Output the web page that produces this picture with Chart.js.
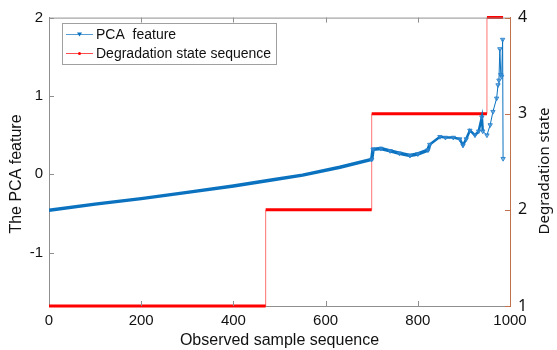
<!DOCTYPE html>
<html>
<head>
<meta charset="utf-8">
<script src="https://cdn.jsdelivr.net/npm/chart.js@4.4.0/dist/chart.umd.min.js"></script>
<style>
html, body { margin: 0; padding: 0; background: #fff; }
#wrap { width: 557px; height: 350px; }
</style>
</head>
<body>
<div id="wrap"><canvas id="stateChart"></canvas></div>
<script>
// PCA feature
let sampleIdx = [0, 100, 200, 300, 400, 486, 550, 631, 700, 703, 720, 740, 760, 783, 800, 822, 826, 848, 860, 877, 891, 898, 905, 913, 924, 932, 939, 941, 950, 957, 963, 971, 974, 976, 978, 980, 982, 984, 985];
let pcaValues = [-0.46, -0.38, -0.31, -0.23, -0.15, -0.07, -0.01, 0.09, 0.19, 0.32, 0.33, 0.30, 0.27, 0.24, 0.26, 0.31, 0.38, 0.48, 0.47, 0.47, 0.45, 0.37, 0.45, 0.56, 0.50, 0.55, 0.73, 0.55, 0.50, 0.63, 0.80, 0.97, 1.14, 1.20, 1.60, 1.27, 1.25, 1.72, 0.20];

// degradation state sequence (step levels)
let stateIdx = [0, 470, 470, 700, 700, 950, 950, 985];
let stateValues = [1, 1, 2, 2, 3, 3, 4, 4];

let xTicks = [0, 200, 400, 600, 800, 1000];
let leftTicks = [-1, 0, 1, 2];
let rightTicks = [1, 2, 3, 4];

let blue = '#0b72c0';
let red = '#ff0000';
let frameGray = '#8f8f8f';
let rightBrown = '#c0704a';

let pcaData = sampleIdx.map((x, i) => ({ x: x, y: pcaValues[i] }));
let stateData = stateIdx.map((x, i) => ({ x: x, y: stateValues[i] }));

// matlab-ish frame: inward ticks, top border, side titles, legend box inside the axes
let matlabFrame = {
    id: 'matlabFrame',
    afterDraw(chart) {
        let c = chart.ctx;
        let a = chart.chartArea;
        let sx = chart.scales.x, sy = chart.scales.y, sy2 = chart.scales.y2;
        c.save();
        c.lineWidth = 1;
        c.strokeStyle = frameGray;
        c.beginPath();
        c.moveTo(a.left, a.top + 0.5);
        c.lineTo(a.right, a.top + 0.5);
        xTicks.forEach(v => {
            let px = Math.round(sx.getPixelForValue(v)) + 0.5;
            if (v > 0 && v < 1000) {
                c.moveTo(px, a.bottom); c.lineTo(px, a.bottom - 5);
                c.moveTo(px, a.top); c.lineTo(px, a.top + 5);
            }
        });
        leftTicks.forEach(v => {
            let py = Math.round(sy.getPixelForValue(v)) + 0.5;
            c.moveTo(a.left, py); c.lineTo(a.left + 5, py);
        });
        c.stroke();
        c.strokeStyle = rightBrown;
        c.beginPath();
        rightTicks.forEach(v => {
            let py = Math.round(sy2.getPixelForValue(v)) + 0.5;
            c.moveTo(a.right, py); c.lineTo(a.right - 5, py);
        });
        c.stroke();

        // side titles, both read bottom to top
        c.fillStyle = '#111';
        c.textAlign = 'center';
        c.textBaseline = 'middle';
        c.save();
        c.translate(17, 174);
        c.rotate(-Math.PI / 2);
        c.font = '16px "Liberation Sans", Arial, sans-serif';
        c.fillText('The PCA feature', 0, 0);
        c.restore();
        c.save();
        c.translate(545, 171);
        c.rotate(-Math.PI / 2);
        c.font = '15px "Noto Sans", sans-serif';
        c.fillText('Degradation state', 0, 0);
        c.restore();

        // legend
        let bx = 62.5, by = 23.5, bw = 214, bh = 41;
        c.textAlign = 'left';
        c.fillStyle = '#fff';
        c.fillRect(bx, by, bw, bh);
        c.strokeStyle = '#a0a0a0';
        c.strokeRect(bx, by, bw, bh);
        c.font = '14px "Liberation Sans", Arial, sans-serif';
        let rows = [
            { y: 34, color: blue, label: chart.data.datasets[0].label, mark: 'tri' },
            { y: 53, color: red, label: chart.data.datasets[1].label, mark: 'dot' }
        ];
        rows.forEach(r => {
            c.strokeStyle = r.color;
            c.globalAlpha = 0.7;
            c.beginPath();
            c.moveTo(66, r.y + 0.5); c.lineTo(93, r.y + 0.5);
            c.stroke();
            c.globalAlpha = 1;
            c.fillStyle = r.color;
            c.beginPath();
            if (r.mark === 'tri') {
                c.moveTo(77, r.y - 1.5); c.lineTo(82, r.y - 1.5); c.lineTo(79.5, r.y + 2.5);
            } else {
                c.arc(79.5, r.y + 0.5, 1.5, 0, Math.PI * 2);
            }
            c.fill();
            c.fillStyle = '#111';
            c.fillText(r.label, 96, r.y + 1);
        });
        c.restore();
    }
};

let myChart = new Chart(document.getElementById('stateChart'), {
    type: 'line',
    data: {
        datasets: [
            {
                label: 'PCA  feature',
                data: pcaData,
                yAxisID: 'y',
                borderColor: blue,
                backgroundColor: 'rgba(70,150,215,0.6)',
                pointStyle: 'triangle',
                rotation: 180,
                pointRadius: ctx => (ctx.raw && ctx.raw.x >= 700 ? 2.5 : 0),
                pointBorderWidth: 1,
                pointBorderColor: 'rgba(40,130,205,0.9)',
                segment: {
                    borderWidth: ctx => (ctx.p0.parsed.x < 826 ? 3.5 : (ctx.p0.parsed.x < 940 ? 2.5 : 1))
                },
                tension: 0,
                order: 1
            },
            {
                label: 'Degradation state sequence',
                data: stateData,
                yAxisID: 'y2',
                borderColor: red,
                pointRadius: 0,
                segment: {
                    borderWidth: ctx => (ctx.p0.parsed.y === ctx.p1.parsed.y ? 3 : 1),
                    borderColor: ctx => (ctx.p0.parsed.y === ctx.p1.parsed.y ? red : 'rgba(255,0,0,0.55)')
                },
                clip: 4,
                tension: 0,
                order: 2
            }
        ]
    },
    options: {
        responsive: true,
        maintainAspectRatio: false,
        animation: false,
        devicePixelRatio: 1,
        layout: { padding: { top: 15, left: 0, right: 0, bottom: 0 } },
        plugins: {
            legend: { display: false },
            tooltip: { enabled: false }
        },
        scales: {
            x: {
                type: 'linear',
                min: 0,
                max: 1000,
                afterBuildTicks: s => { s.ticks = xTicks.map(v => ({ value: v })); },
                ticks: { color: '#111', padding: 6, maxRotation: 0, callback: v => String(v), font: { family: '"Liberation Sans", Arial', size: 15 } },
                grid: { display: false, drawTicks: false },
                border: { display: true, color: frameGray },
                title: { display: true, text: 'Observed sample sequence', color: '#111', padding: { top: 0, bottom: 0 }, font: { family: '"Liberation Sans", Arial', size: 16 } },
                afterFit: s => { s.height = 44; }
            },
            y: {
                position: 'left',
                min: -1.68,
                max: 2,
                afterBuildTicks: s => { s.ticks = leftTicks.map(v => ({ value: v })); },
                ticks: { color: '#111', padding: 6, callback: v => String(v), font: { family: '"Liberation Sans", Arial', size: 15 } },
                grid: { display: false, drawTicks: false },
                border: { display: true, color: frameGray },
                afterFit: s => { s.width = 49; }
            },
            y2: {
                position: 'right',
                min: 1,
                max: 4,
                afterBuildTicks: s => { s.ticks = rightTicks.map(v => ({ value: v })); },
                ticks: { color: '#111', padding: 8, callback: v => String(v), font: { family: '"Noto Sans"', size: 16 } },
                grid: { display: false, drawTicks: false },
                border: { display: true, color: rightBrown },
                afterFit: s => { s.width = 47; }
            }
        }
    },
    plugins: [matlabFrame]
});
</script>
</body>
</html>
